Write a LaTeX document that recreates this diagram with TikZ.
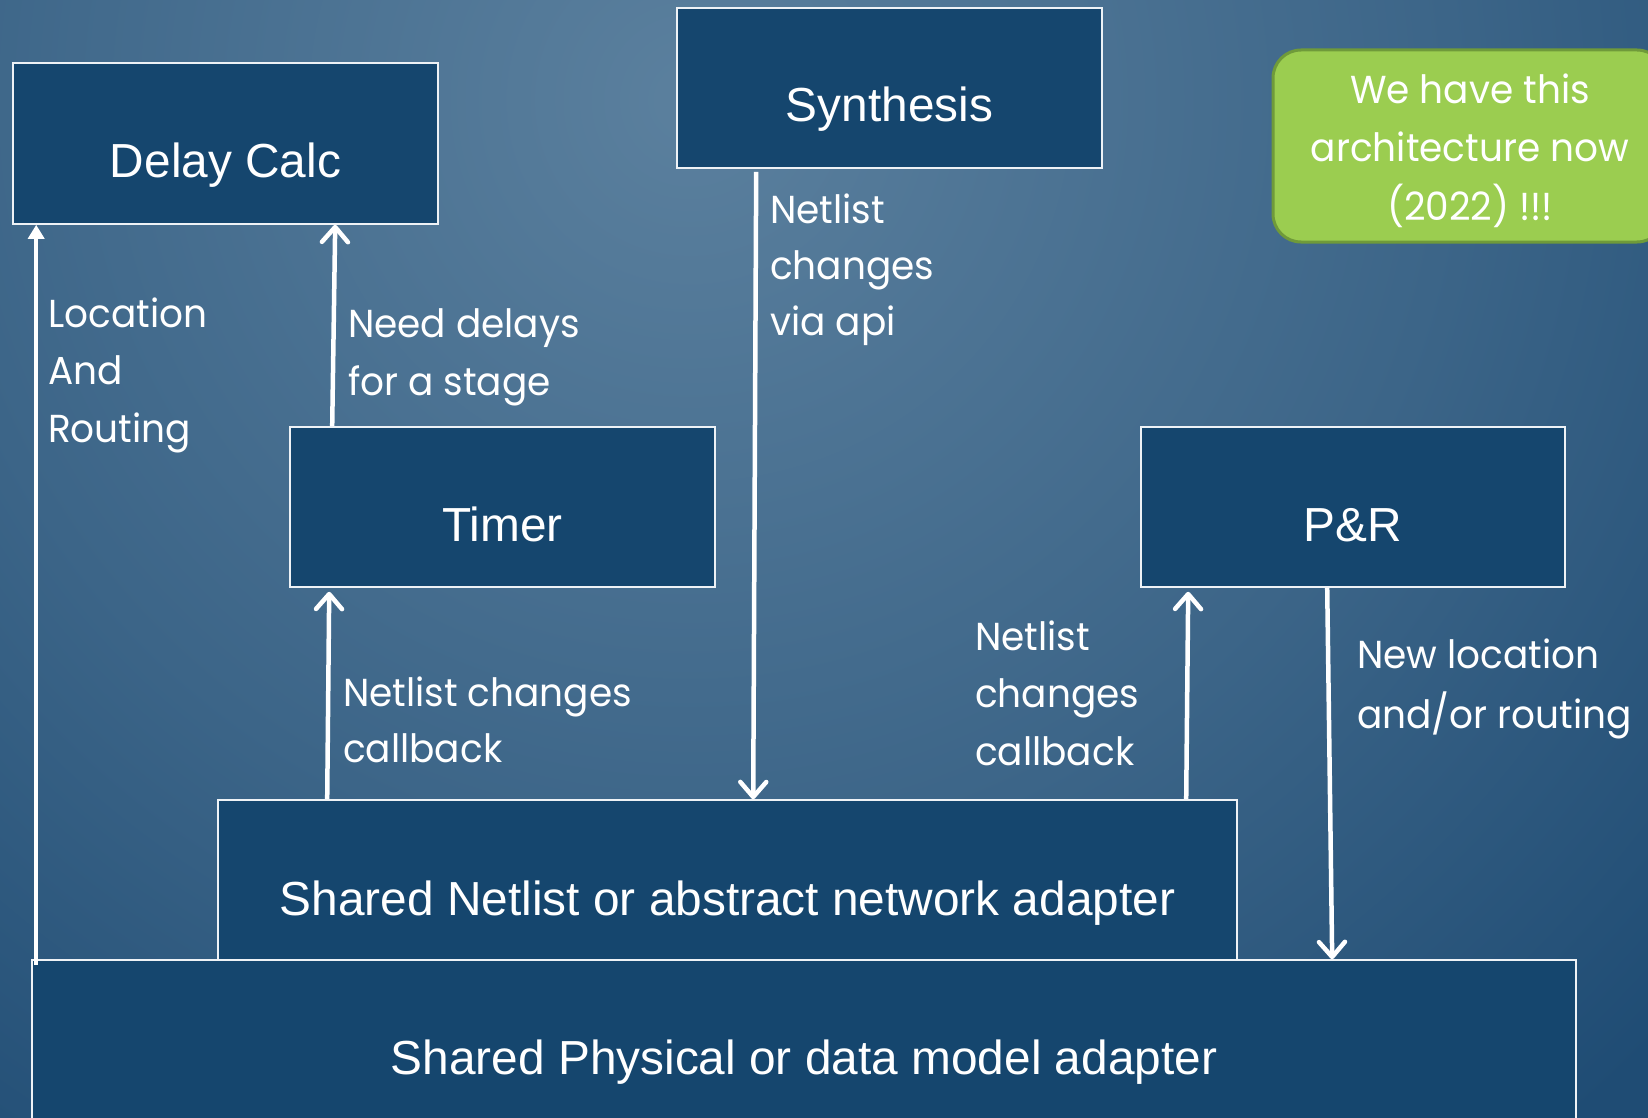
\documentclass[tikz,border=0pt]{standalone}
\usepackage{fontspec}
\setmainfont{Liberation Sans}
\newfontfamily\lblfont{Poppins}[FakeStretch=0.96]
\usetikzlibrary{arrows.meta,calc}
\definecolor{boxfill}{HTML}{15466E}
\definecolor{boxline}{HTML}{EEF2F6}
\definecolor{bgA}{HTML}{5B809E}
\definecolor{bgB}{HTML}{3C6588}
\definecolor{bgC}{HTML}{1F4C74}
\definecolor{grfill}{HTML}{9BCD50}
\definecolor{grline}{HTML}{6F9A3A}
\pgfdeclareradialshading{bgshade}{\pgfpoint{0bp}{0bp}}{color(0bp)=(bgA); color(12.7bp)=(bgB); color(22.5bp)=(bgC); color(50bp)=(bgC)}
\begin{document}
\begin{tikzpicture}[x=1pt,y=-1pt,
  blk/.style={draw=boxline, line width=1.6pt, fill=boxfill, inner sep=0pt},
  blktext/.style={text=white, font=\fontsize{47.8}{57}\selectfont, anchor=base, inner sep=0pt},
  lbl/.style={text=white, font=\lblfont\fontsize{39}{58}\selectfont, anchor=base west, inner sep=0pt},
  grtext/.style={text=white, font=\lblfont\fontsize{39}{58}\selectfont, anchor=base, inner sep=0pt},
  arr/.style={draw=white, line width=4.5pt, -{Straight Barb[length=15pt,width=26pt,line cap=round,line join=round]}},
  tri/.style={draw=white, line width=4.5pt, -{Triangle[length=14pt,width=16pt]}}]
\useasboundingbox (0,0) rectangle (1648,1118);
\begin{scope}
  \clip (0,0) rectangle (1648,1118);
  \shade[shading=bgshade] (690,100) circle (1500);
\end{scope}

% boxes
\node[blk, minimum width=425pt, minimum height=161pt] (dc) at (225.5,143.5) {};
\node[blktext] (dct) at ([yshift=-34.5pt]dc.center) {Delay Calc};
\node[blk, minimum width=425pt, minimum height=160pt] (syn) at (889.5,88) {};
\node[blktext] (synt) at ([yshift=-34pt]syn.center) {Synthesis};
\node[blk, minimum width=425pt, minimum height=160pt] (tm) at (502.5,507) {};
\node[blktext] (tmt) at ([yshift=-34pt]tm.center) {Timer};
\node[blk, minimum width=424pt, minimum height=160pt] (pr) at (1353,507) {};
\node[blktext] (prt) at ([yshift=-34pt]pr.center) {P\&R};
\node[blk, minimum width=1019pt, minimum height=160pt] (na) at (727.5,880) {};
\node[blktext] (nat) at ([yshift=-35pt]na.center) {Shared Netlist or abstract network adapter};
\node[blk, minimum width=1544pt, minimum height=160pt] (ph) at (804,1040) {};
\node[blktext] (pht) at ([yshift=-34pt]ph.center) {Shared Physical or data model adapter};

% green note
\node[draw=grline, line width=3pt, fill=grfill, rounded corners=28pt, minimum width=392pt, minimum height=192pt, inner sep=0pt] (gr) at (1469,146) {};
\node[grtext] (gr1) at (1470,104) {We have this};
\node[grtext] (gr2) at (1470,162) {architecture now};
\node[grtext] (gr3) at (1470,220) {(2022) !!!};

% arrows
\draw[tri] ([shift={(5,6)}]ph.north west) -- ([xshift=24pt]dc.south west);
\draw[arr] ([xshift=43pt]tm.north west) -- ([xshift=323pt]dc.south west);
\draw[arr] ([xshift=110pt]na.north west) -- ([shift={(40,4)}]tm.south west);
\draw[arr] ([shift={(80,3)}]syn.south west) -- ([xshift=536pt]na.north west);
\draw[arr] ([xshift=969pt]na.north west) -- ([shift={(48,4)}]pr.south west);
\draw[arr] ([xshift=187pt]pr.south west) -- ([xshift=1301pt]ph.north west);

% labels
\node[lbl] (l1a) at (48,327) {Location};
\node[lbl] (l1b) at (48,384) {And};
\node[lbl] (l1c) at (48,442) {Routing};
\node[lbl] (l2a) at (348,337) {Need delays};
\node[lbl] (l2b) at (348,395) {for a stage};
\node[lbl] (l3a) at (770,223) {Netlist};
\node[lbl] (l3b) at (770,279) {changes};
\node[lbl] (l3c) at (770,335) {via api};
\node[lbl] (l4a) at (343,706) {Netlist changes};
\node[lbl] (l4b) at (343,762) {callback};
\node[lbl] (l5a) at (975,650) {Netlist};
\node[lbl] (l5b) at (975,707) {changes};
\node[lbl] (l5c) at (975,765) {callback};
\node[lbl] (l6a) at (1357,668) {New location};
\node[lbl] (l6b) at (1357,728) {and/or routing};
\end{tikzpicture}
\end{document}
